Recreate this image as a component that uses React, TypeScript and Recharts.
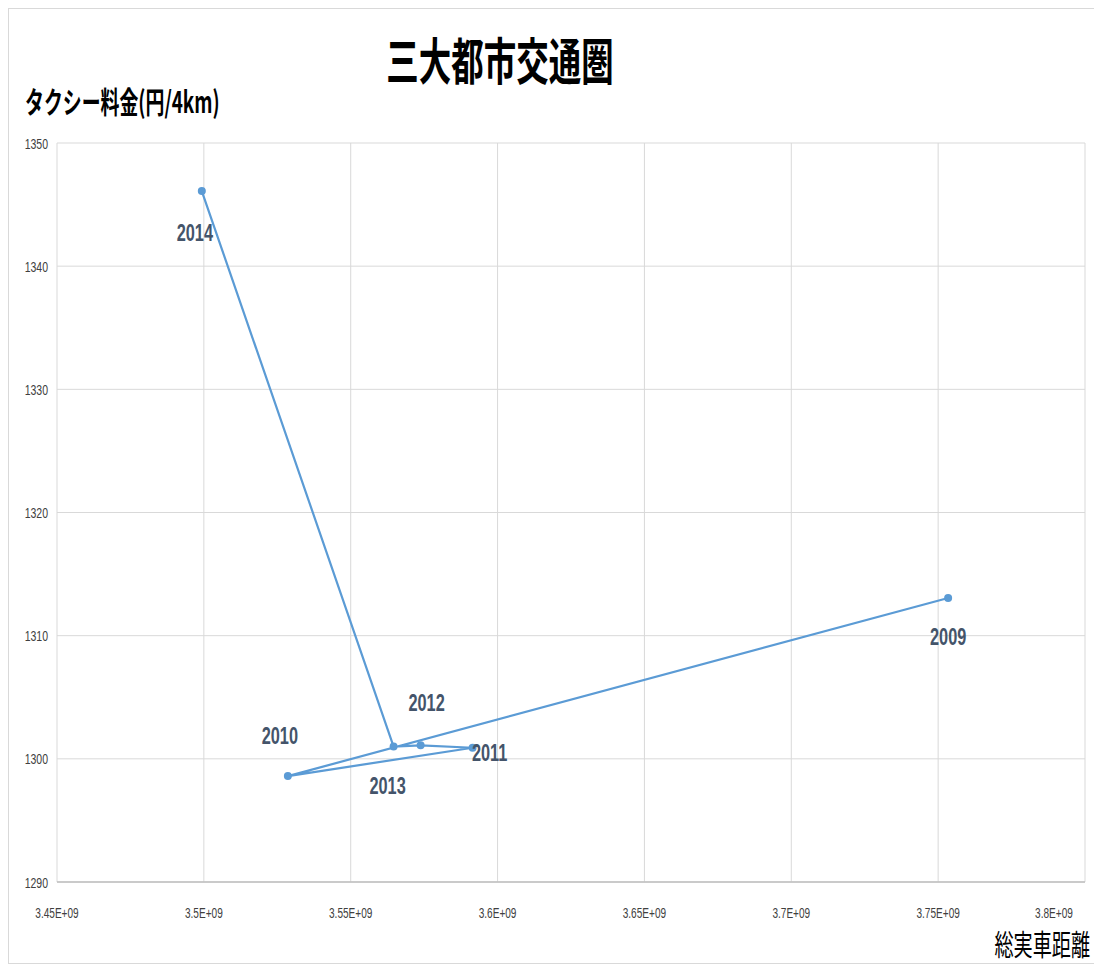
import React from 'react';
import { ScatterChart, Scatter, XAxis, YAxis, CartesianGrid, LabelList } from 'recharts';

const years = ['2009', '2010', '2011', '2012', '2013', '2014'];
const distance = [3.7534e9, 3.5286e9, 3.5915e9, 3.5738e9, 3.5646e9, 3.4993e9];
const fare = [1313.06, 1298.6, 1300.9, 1301.1, 1301.0, 1346.1];

const xTicks = [3.45e9, 3.5e9, 3.55e9, 3.6e9, 3.65e9, 3.7e9, 3.75e9, 3.8e9];
const xTickLabels = ['3.45E+09', '3.5E+09', '3.55E+09', '3.6E+09', '3.65E+09', '3.7E+09', '3.75E+09', '3.8E+09'];
const yTicks = [1290, 1300, 1310, 1320, 1330, 1340, 1350];

const title = '三大都市交通圏';
const yTitle = 'タクシー料金(円/4km)';
const xTitle = '総実車距離';

const data = years.map((y, i) => ({ year: y, x: distance[i], y: fare[i] }));

// label placement relative to the point (style only)
const labelShift: Record<string, [number, number]> = {
  '2009': [0, 38],
  '2010': [-8, -41],
  '2011': [17, 4],
  '2012': [6, -43],
  '2013': [-6, 39],
  '2014': [-7, 41],
};

const COLOR = '#5B9BD5';
const TEXT = '#44546A';

const XTick = (props: any) => {
  const { x, y, payload } = props;
  const idx = xTicks.indexOf(payload.value);
  const label = idx >= 0 ? xTickLabels[idx] : String(payload.value);
  return (
    <text
      transform={`translate(${x},${y + 23}) scale(0.72,1)`}
      textAnchor="middle"
      dominantBaseline="central"
      fontFamily="Liberation Sans, Arial, sans-serif"
      fontSize={14}
      fill="#404040"
    >
      {label}
    </text>
  );
};

const YTick = (props: any) => {
  const { y, payload } = props;
  return (
    <text
      transform={`translate(${39},${y + 1}) scale(0.75,1)`}
      textAnchor="end"
      dominantBaseline="central"
      fontFamily="Liberation Sans, Arial, sans-serif"
      fontSize={14}
      fill="#404040"
    >
      {payload.value}
    </text>
  );
};

const Dot = (props: any) => {
  const { cx, cy } = props;
  return <circle cx={cx} cy={cy} r={4} fill={COLOR} />;
};

const renderLabel = (props: any) => {
  const { x, y, width, height, value } = props;
  const cx = x + (width || 0) / 2;
  const cy = y + (height || 0) / 2;
  const [dx, dy] = labelShift[value] || [0, 0];
  return (
    <text
      transform={`translate(${cx + dx},${cy + dy}) scale(0.68,1)`}
      textAnchor="middle"
      dominantBaseline="central"
      fontFamily="Liberation Sans, Arial, sans-serif"
      fontWeight="bold"
      fontSize={24}
      fill={TEXT}
    >
      {value}
    </text>
  );
};

const W = 1085;
const H = 955;

export default function App() {
  return (
    <div
      style={{
        position: 'relative',
        width: W,
        height: H,
        borderLeft: '1px solid #d9d9d9',
        borderTop: '1px solid #d9d9d9',
        background: '#fff',
      }}
    >
      <ScatterChart width={W} height={H} margin={{ top: 134, right: 9, left: 0, bottom: 0 }}>
        <CartesianGrid stroke="#d9d9d9" strokeWidth={1} />
        <XAxis
          type="number"
          dataKey="x"
          domain={[3.45e9, 3.8e9]}
          ticks={xTicks}
          tick={<XTick />}
          tickLine={false}
          axisLine={{ stroke: '#bfbfbf', strokeWidth: 1.5 }}
          height={82}
          allowDataOverflow
        />
        <YAxis
          type="number"
          dataKey="y"
          domain={[1290, 1350]}
          ticks={yTicks}
          tick={<YTick />}
          tickLine={false}
          axisLine={false}
          width={48}
          allowDataOverflow
        />
        <Scatter
          data={data}
          fill={COLOR}
          line={{ stroke: COLOR, strokeWidth: 2.2 }}
          shape={<Dot />}
          isAnimationActive={false}
        >
          <LabelList dataKey="year" content={renderLabel} />
        </Scatter>
      </ScatterChart>
      <svg
        width={W}
        height={H}
        style={{ position: 'absolute', left: 0, top: 0, pointerEvents: 'none' }}
      >
        <line x1={0} y1={H - 0.5} x2={W} y2={H - 0.5} stroke="#d9d9d9" strokeWidth={1} />
        <text
          transform={`translate(491,49) scale(0.65,1)`}
          textAnchor="middle"
          dominantBaseline="central"
          fontFamily="Noto Sans CJK JP"
          fontWeight="bold"
          fontSize={50}
          fill="#000"
        >
          {title}
        </text>
        <text
          transform={`translate(16,91) scale(0.63,1)`}
          textAnchor="start"
          dominantBaseline="central"
          fontFamily="Noto Sans CJK JP"
          fontWeight="bold"
          fontSize={30}
          fill="#000"
        >
          {yTitle}
        </text>
        <text
          transform={`translate(1081,935) scale(0.66,1)`}
          textAnchor="end"
          dominantBaseline="central"
          fontFamily="Noto Sans CJK JP"
          fontSize={29}
          fill="#000"
        >
          {xTitle}
        </text>
      </svg>
    </div>
  );
}
